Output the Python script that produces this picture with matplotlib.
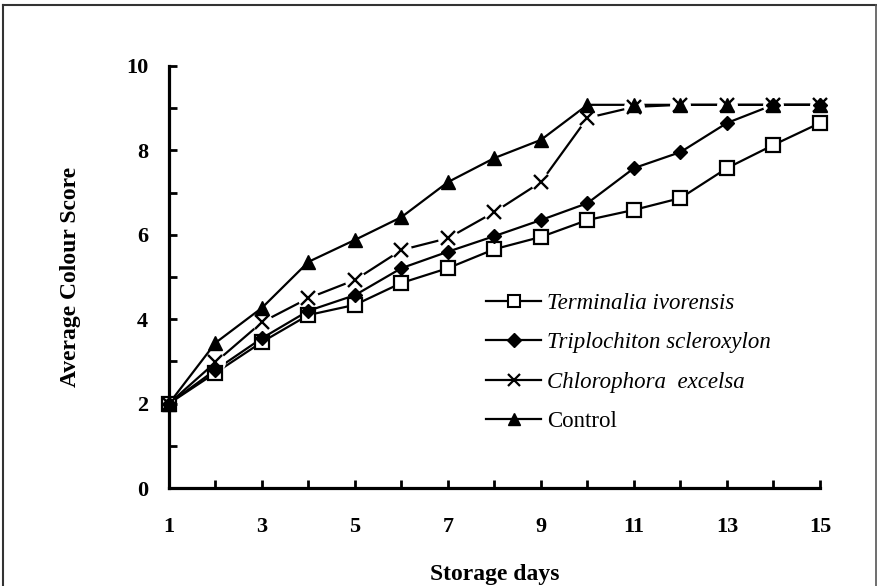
import matplotlib
matplotlib.use("Agg")
import matplotlib.pyplot as plt
from matplotlib.lines import Line2D

days = list(range(1, 16))
terminalia = [2.0, 2.73, 3.46, 4.1, 4.34, 4.86, 5.21, 5.66, 5.95, 6.35, 6.59, 6.87, 7.58, 8.13, 8.65]
triplochiton = [2.0, 2.8, 3.55, 4.2, 4.57, 5.21, 5.6, 5.97, 6.35, 6.75, 7.58, 7.96, 8.65, 9.08, 9.08]
chlorophora = [2.0, 2.98, 3.93, 4.5, 4.93, 5.64, 5.92, 6.54, 7.25, 8.77, 9.03, 9.08, 9.08, 9.08, 9.08]
control = [2.0, 3.44, 4.27, 5.36, 5.88, 6.42, 7.25, 7.82, 8.25, 9.08, 9.08, 9.08, 9.08, 9.08, 9.08]

labels = ["Terminalia ivorensis", "Triplochiton scleroxylon", "Chlorophora  excelsa", "Control"]
x_ticklabels = ["1", "3", "5", "7", "9", "11", "13", "15"]
y_ticklabels = ["0", "2", "4", "6", "8", "10"]

serif = ["Liberation Serif", "DejaVu Serif"]
plt.rcParams["font.family"] = serif

fig = plt.figure(figsize=(8.78, 5.86), dpi=100)
ax = fig.add_axes([169 / 878, 1 - 488 / 586, (820 - 169) / 878, (488 - 66) / 586])

lw = 1.6
# lines
ax.plot(days, terminalia, color="black", lw=lw, zorder=2, clip_on=False)
ax.plot(days, triplochiton, color="black", lw=lw, zorder=2, clip_on=False)
ax.plot(days, chlorophora, color="black", lw=lw, zorder=2, clip_on=False)
ax.plot(days, control, color="black", lw=lw, zorder=2, clip_on=False)
# white halo around X markers (gaps in the line)
ax.plot(days[1:], chlorophora[1:], ls="none", marker="o", ms=15, mfc="white", mec="none", zorder=3, clip_on=False)
# markers
ax.plot(days, terminalia, ls="none", marker="s", ms=10, mfc="white", mec="black", mew=1.6, zorder=4, clip_on=False)
ax.plot(days, triplochiton, ls="none", marker="D", ms=7, mfc="black", mec="black", zorder=4, clip_on=False)
ax.plot(days, chlorophora, ls="none", marker="x", ms=10, mec="black", mew=1.7, zorder=4, clip_on=False)
ax.plot(days, control, ls="none", marker="^", ms=10, mfc="black", mec="black", zorder=4, clip_on=False)

ax.set_xlim(1, 15)
ax.set_ylim(0, 10)
ax.set_xticks(range(1, 16))
ax.set_xticklabels([str(d) if str(d) in x_ticklabels else "" for d in range(1, 16)])
ax.set_yticks(range(0, 11))
ax.set_yticklabels([str(v) if str(v) in y_ticklabels else "" for v in range(0, 11)])

for s in ["top", "right"]:
    ax.spines[s].set_visible(False)
for s in ["left", "bottom"]:
    ax.spines[s].set_linewidth(2.3)
ax.tick_params(axis="both", direction="in", length=6, width=2, labelsize=16)
ax.tick_params(axis="x", pad=21)
ax.tick_params(axis="y", pad=15)
for t in ax.get_xticklabels() + ax.get_yticklabels():
    t.set_fontweight("bold")

ax.set_xlabel("Storage days", fontsize=17, fontweight="bold", labelpad=19)
ax.set_ylabel("Average Colour Score", fontsize=17, fontweight="bold", labelpad=32)

handles = [
    Line2D([], [], color="black", lw=lw, marker="s", ms=9, mfc="white", mec="black", mew=1.5),
    Line2D([], [], color="black", lw=lw, marker="D", ms=7, mfc="black", mec="black"),
    Line2D([], [], color="black", lw=lw, marker="x", ms=9, mec="black", mew=1.6),
    Line2D([], [], color="black", lw=lw, marker="^", ms=9, mfc="black", mec="black"),
]
leg = ax.legend(handles, labels, loc="upper left", bbox_to_anchor=(486 / 878, 1 - 293 / 586),
                bbox_transform=fig.transFigure, frameon=False, fontsize=16.5,
                handlelength=2.4, handletextpad=0.28, labelspacing=0.8, borderpad=0, borderaxespad=0)
for i, t in enumerate(leg.get_texts()):
    t.set_fontstyle("italic" if i < 3 else "normal")

# scan frame
fig.add_artist(Line2D([3 / 878, 876 / 878], [1 - 5 / 586, 1 - 5 / 586], color="#333333", lw=1.5, transform=fig.transFigure))
fig.add_artist(Line2D([3 / 878, 3 / 878], [0, 1 - 5 / 586], color="#333333", lw=1.5, transform=fig.transFigure))
fig.add_artist(Line2D([876 / 878, 876 / 878], [0, 1 - 5 / 586], color="#555555", lw=1.2, transform=fig.transFigure))

fig.savefig("out.png", dpi=100)
